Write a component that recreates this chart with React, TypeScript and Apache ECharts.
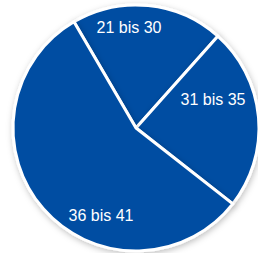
import React, { useEffect, useRef } from "react";
import * as echarts from "echarts";

const categories = ["21 bis 30", "31 bis 35", "36 bis 41"];
const values = [20, 24, 56];
const labelPos = [
  [129, 27],
  [213, 99],
  [101, 215],
];

export default function App() {
  const ref = useRef<HTMLDivElement>(null);
  useEffect(() => {
    document.body.style.margin = "0";
    const chart = echarts.init(ref.current!, null, { renderer: "svg" });
    chart.setOption({
      animation: false,
      backgroundColor: "#ffffff",
      series: [
        {
          type: "pie",
          center: [136, 128],
          radius: 123,
          startAngle: 120.3,
          clockwise: true,
          silent: true,
          data: categories.map((c, i) => ({ name: c, value: values[i] })),
          itemStyle: {
            color: "#034ea2",
            borderColor: "#ffffff",
            borderWidth: 3,
            shadowBlur: 6,
            shadowOffsetX: 1,
            shadowOffsetY: 2,
            shadowColor: "rgba(0,0,0,0.25)",
          },
          label: {
            show: true,
            position: "inside",
            formatter: "{b}",
            color: "#ffffff",
            fontFamily: "Liberation Sans, Arial, sans-serif",
            fontSize: 16,
          },
          labelLine: { show: false },
          labelLayout: (p: any) => ({
            x: labelPos[p.dataIndex][0],
            y: labelPos[p.dataIndex][1],
            align: "center",
            verticalAlign: "middle",
          }),
        },
      ],
    });
    return () => chart.dispose();
  }, []);
  return (
    <div
      ref={ref}
      style={{ width: 258, height: 253, position: "absolute", left: 0, top: 0 }}
    />
  );
}
